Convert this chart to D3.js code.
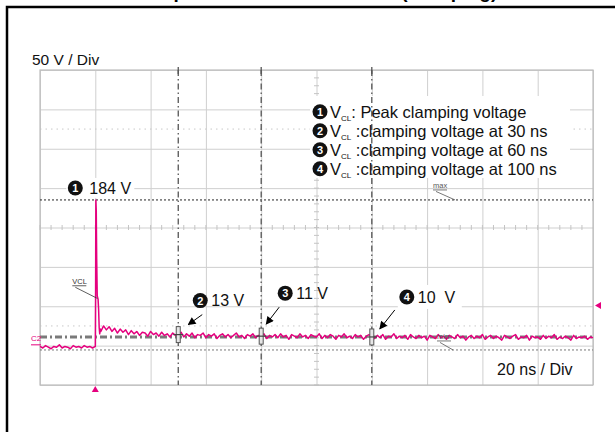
<!DOCTYPE html>
<html>
<head>
<meta charset="utf-8">
<script src="https://cdn.jsdelivr.net/npm/d3@7"></script>
<style>
  body { margin: 0; background: #fff; }
  svg { display: block; font-family: "Liberation Sans", Arial, sans-serif; }
</style>
</head>
<body>
<svg id="chart" width="615" height="432"></svg>
<script>
// scope settings / readings
const timeDomain = [-20, 180];      // ns, 20 ns / div, trigger at 0
const voltDomain = [-51, 349];      // V, 50 V / div
const peakVolt = 184;
const minVolt = -6.5;
const trigLevel = 50;
const cursorLevel = 10;
const cursorTimes = [30, 60, 100];
const cursorVolts = [13, 11, 10];
const cursorLabels = ["13 V", "11 V", "10  V"];
const legendLines = [": Peak clamping voltage", " :clamping voltage at 30 ns",
                     " :clamping voltage at 60 ns", " :clamping voltage at 100 ns"];

// trace
const preTrigV = [-2, -4, -1, -3, -5, -2, -3, 0, -4, -2, -3, -5, -1, -3, -2, -4, -1, -3, -2, -4]; // t = -20..-1
const spikeT = [0, 0.1, 0.2, 0.35, 0.5, 0.7, 1.0, 1.2, 1.4, 1.6, 1.8, 2.0];
const spikeV = [-2, 60, 184, 170, 110, 62, 58, 45, 22, 14, 20, 17];
const postV = [ // t = 3..180
  24, 19, 23, 17, 21, 15, 20, 16, 19, 13, 18, 14, 17, 12, 16, 15, 11, 17, 13, 15,
  11, 16, 12, 14, 10, 15, 12, 13, 16, 10, 14, 11, 15, 9, 13, 12, 15, 9, 13, 11,
  14, 8, 12, 14, 10, 13, 9, 12, 15, 10, 12, 8, 13, 11, 14, 9, 12, 11, 14, 8,
  12, 10, 13, 9, 14, 10, 12, 7, 13, 11, 9, 14, 10, 12, 8, 13, 11, 10, 14, 8,
  12, 9, 13, 11, 7, 12, 10, 14, 9, 11, 8, 13, 10, 12, 7, 11, 13, 10, 8, 12,
  9, 13, 7, 11, 10, 14, 8, 11, 9, 12, 7, 13, 10, 8, 12, 9, 11, 6, 12, 10,
  8, 13, 9, 11, 7, 12, 10, 8, 13, 9, 11, 6, 10, 12, 8, 11, 9, 13, 7, 10,
  12, 8, 11, 9, 6, 12, 10, 8, 11, 13, 7, 10, 9, 12, 6, 11, 9, 10, 7, 12,
  8, 11, 9, 13, 7, 10, 8, 11, 9, 6, 12, 8, 10, 9, 11, 7, 10, 9
];

const magenta = "#e5007e";
const svg = d3.select("#chart");
const L = 40, R = 593, T = 70, B = 385;

const x = d3.scaleLinear().domain(timeDomain).range([L, R]);
const y = d3.scaleLinear().domain(voltDomain).range([B, T]);

// page frame + title (mostly above the crop, as in the source)
svg.append("text").attr("x", 310).attr("y", -2).attr("text-anchor", "middle")
  .attr("font-size", 19).attr("font-weight", "bold")
  .text("Example of VCL measurement (clamping)");
svg.append("path").attr("d", "M7,432V7H615").attr("fill", "none")
  .attr("stroke", "#000").attr("stroke-width", 2.5);

// grid
const g = svg.append("g");
const xTicks = d3.range(timeDomain[0], timeDomain[1] + 1, 20);
const yTicks = d3.range(0, 9).map(i => voltDomain[0] + 50 * i);
g.append("g").attr("transform", `translate(0,${B})`)
  .call(d3.axisBottom(x).tickValues(xTicks).tickSize(-(B - T)).tickFormat(""))
  .call(a => a.select(".domain").remove())
  .selectAll("line").attr("stroke", "#cfcfcf");
g.append("g").attr("transform", `translate(${L},0)`)
  .call(d3.axisLeft(y).tickValues(yTicks).tickSize(-(R - L)).tickFormat(""))
  .call(a => a.select(".domain").remove())
  .selectAll("line").attr("stroke", "#cfcfcf");

// minor ticks on centre lines
const cx = x(80), cy = y(149);
g.selectAll(".mx").data(d3.range(timeDomain[0], timeDomain[1], 4)).join("line")
  .attr("x1", d => x(d)).attr("x2", d => x(d)).attr("y1", cy - 2.5).attr("y2", cy + 2.5)
  .attr("stroke", "#c4c4c4");
g.selectAll(".my").data(d3.range(voltDomain[0], voltDomain[1], 10)).join("line")
  .attr("x1", cx - 2.5).attr("x2", cx + 2.5).attr("y1", d => y(d)).attr("y2", d => y(d))
  .attr("stroke", "#c4c4c4");
// dotted level rows
g.selectAll(".dr").data([274, 24]).join("line")
  .attr("x1", L).attr("x2", R).attr("y1", d => y(d)).attr("y2", d => y(d))
  .attr("stroke", "#c8c8c8").attr("stroke-dasharray", "1.5,4");
g.append("rect").attr("x", L).attr("y", T).attr("width", R - L).attr("height", B - T)
  .attr("fill", "none").attr("stroke", "#bdbdbd").attr("stroke-width", 1.2);

// legend box (white, hides grid)
svg.append("rect").attr("x", 310).attr("y", 96).attr("width", 260).attr("height", 82).attr("fill", "#fff");

// vertical time cursors
svg.selectAll(".vc").data(cursorTimes).join("line")
  .attr("x1", d => x(d)).attr("x2", d => x(d)).attr("y1", T).attr("y2", B)
  .attr("stroke", "#555").attr("stroke-width", 1.3).attr("stroke-dasharray", "6,3,1.5,3");
svg.selectAll(".vc2").data(cursorTimes).join("line")
  .attr("x1", d => x(d)).attr("x2", d => x(d)).attr("y1", T - 3).attr("y2", T + 4)
  .attr("stroke", "#555").attr("stroke-width", 1.3);

// level lines
svg.append("line").attr("x1", L).attr("x2", R).attr("y1", y(peakVolt)).attr("y2", y(peakVolt))
  .attr("stroke", "#222").attr("stroke-dasharray", "2,2");
svg.append("line").attr("x1", L).attr("x2", R).attr("y1", y(minVolt)).attr("y2", y(minVolt))
  .attr("stroke", "#777").attr("stroke-dasharray", "2,2");
svg.append("line").attr("x1", L).attr("x2", R).attr("y1", y(cursorLevel)).attr("y2", y(cursorLevel))
  .attr("stroke", "#7a7a7a").attr("stroke-width", 3).attr("stroke-dasharray", "7,3,2,3");

// trace
const pts = [];
preTrigV.forEach((v, i) => pts.push([timeDomain[0] + i, v]));
spikeT.forEach((t, i) => pts.push([t, spikeV[i]]));
postV.forEach((v, i) => pts.push([3 + i, v]));
svg.append("path").datum(pts)
  .attr("d", d3.line().x(d => x(d[0])).y(d => y(d[1])))
  .attr("fill", "none").attr("stroke", magenta).attr("stroke-width", 1.5)
  .attr("stroke-linejoin", "round");

// cursor markers
cursorTimes.forEach((t, i) => {
  const px = x(t), py = y(cursorVolts[i]);
  svg.append("rect").attr("x", px - 2).attr("y", py - 8).attr("width", 4).attr("height", 16)
    .attr("fill", "#e6e6e6").attr("stroke", "#555").attr("stroke-width", 1);
  svg.append("line").attr("x1", px - 5).attr("x2", px + 5).attr("y1", py).attr("y2", py)
    .attr("stroke", "#444").attr("stroke-width", 1.2);
});

// arrows
svg.append("defs").append("marker").attr("id", "ah").attr("viewBox", "0 0 10 10")
  .attr("refX", 9).attr("refY", 5).attr("markerWidth", 9).attr("markerHeight", 8)
  .attr("orient", "auto").attr("markerUnits", "userSpaceOnUse")
  .append("path").attr("d", "M0,0L10,5L0,10z").attr("fill", "#000");
const arrowOff = [[24, -20, 10, -10], [18, -29, 5, -12], [23, -27, 8, -8]];
const labelOff = [[22, -34], [24, -43], [35, -40]];

function badge(cxp, cyp, n) {
  svg.append("circle").attr("cx", cxp).attr("cy", cyp).attr("r", 7.5).attr("fill", "#111");
  svg.append("text").attr("x", cxp).attr("y", cyp + 4).attr("text-anchor", "middle")
    .attr("font-size", 11).attr("font-weight", "bold").attr("fill", "#fff").text(n);
}

cursorTimes.forEach((t, i) => {
  const px = x(t), py = y(cursorVolts[i]);
  const a = arrowOff[i];
  svg.append("line").attr("x1", px + a[0]).attr("y1", py + a[1]).attr("x2", px + a[2]).attr("y2", py + a[3])
    .attr("stroke", "#000").attr("stroke-width", 1).attr("marker-end", "url(#ah)");
  const lx = px + labelOff[i][0], ly = py + labelOff[i][1];
  if (i === 2) svg.append("rect").attr("x", lx - 9).attr("y", ly - 12).attr("width", 64).attr("height", 24).attr("fill", "#fff");
  badge(lx, ly, i + 2);
  svg.append("text").attr("x", lx + 11).attr("y", ly + 5.7).attr("font-size", 16).attr("fill", "#111")
    .style("white-space", "pre").text(cursorLabels[i]);
});

// peak label
const sx = x(0), sy = y(peakVolt);
svg.append("rect").attr("x", sx - 29).attr("y", sy - 22).attr("width", 68).attr("height", 20).attr("fill", "#fff");
badge(sx - 20, sy - 12, 1);
svg.append("text").attr("x", sx - 6).attr("y", sy - 6).attr("font-size", 16).attr("fill", "#111")
  .text(peakVolt + " V");

// legend
legendLines.forEach((s, i) => {
  const ly = 111.7 + 19 * i;
  badge(320, ly, i + 1);
  const tx = svg.append("text").attr("x", 330).attr("y", ly + 5.8).attr("font-size", 16.5)
    .attr("fill", "#111").style("white-space", "pre");
  tx.append("tspan").text("V");
  tx.append("tspan").attr("font-size", 8).attr("dy", 3).text("CL");
  tx.append("tspan").attr("dy", -3).text(s);
});

// small scope annotations
function tag(txt, tx, ty, x2, y2, col) {
  svg.append("text").attr("x", tx).attr("y", ty).attr("font-size", 7.5).attr("fill", col).text(txt);
  svg.append("line").attr("x1", tx).attr("x2", tx + 14).attr("y1", ty + 2).attr("y2", ty + 2)
    .attr("stroke", col).attr("stroke-width", 0.8);
  svg.append("line").attr("x1", tx + 3).attr("y1", ty + 3.5).attr("x2", x2).attr("y2", y2)
    .attr("stroke", col).attr("stroke-width", 0.8);
}
tag("VCL", sx - 23, y(75) - 2, sx + 2, y(59), "#333");
tag("max", 433, sy - 12, 455, sy, "#555");
tag("min", 437, y(minVolt) - 11, 453, y(minVolt), "#555");

// ground marker C2
svg.append("text").attr("x", 31).attr("y", y(0) - 4).attr("font-size", 8).attr("fill", magenta).text("C2");
svg.append("line").attr("x1", 31).attr("x2", 41).attr("y1", y(0)).attr("y2", y(0))
  .attr("stroke", magenta).attr("stroke-width", 1);

// trigger markers
svg.append("path").attr("d", `M${sx},${B + 1}l-3.5,6h7z`).attr("fill", magenta);
svg.append("path").attr("d", `M${R + 2},${y(trigLevel)}l6,-3.5v7z`).attr("fill", magenta);

// scale labels
svg.append("text").attr("x", 32).attr("y", 65).attr("font-size", 15.5).attr("fill", "#111").text("50 V / Div");
svg.append("text").attr("x", 497).attr("y", 375).attr("font-size", 16).attr("fill", "#111").text("20 ns / Div");
</script>
</body>
</html>
